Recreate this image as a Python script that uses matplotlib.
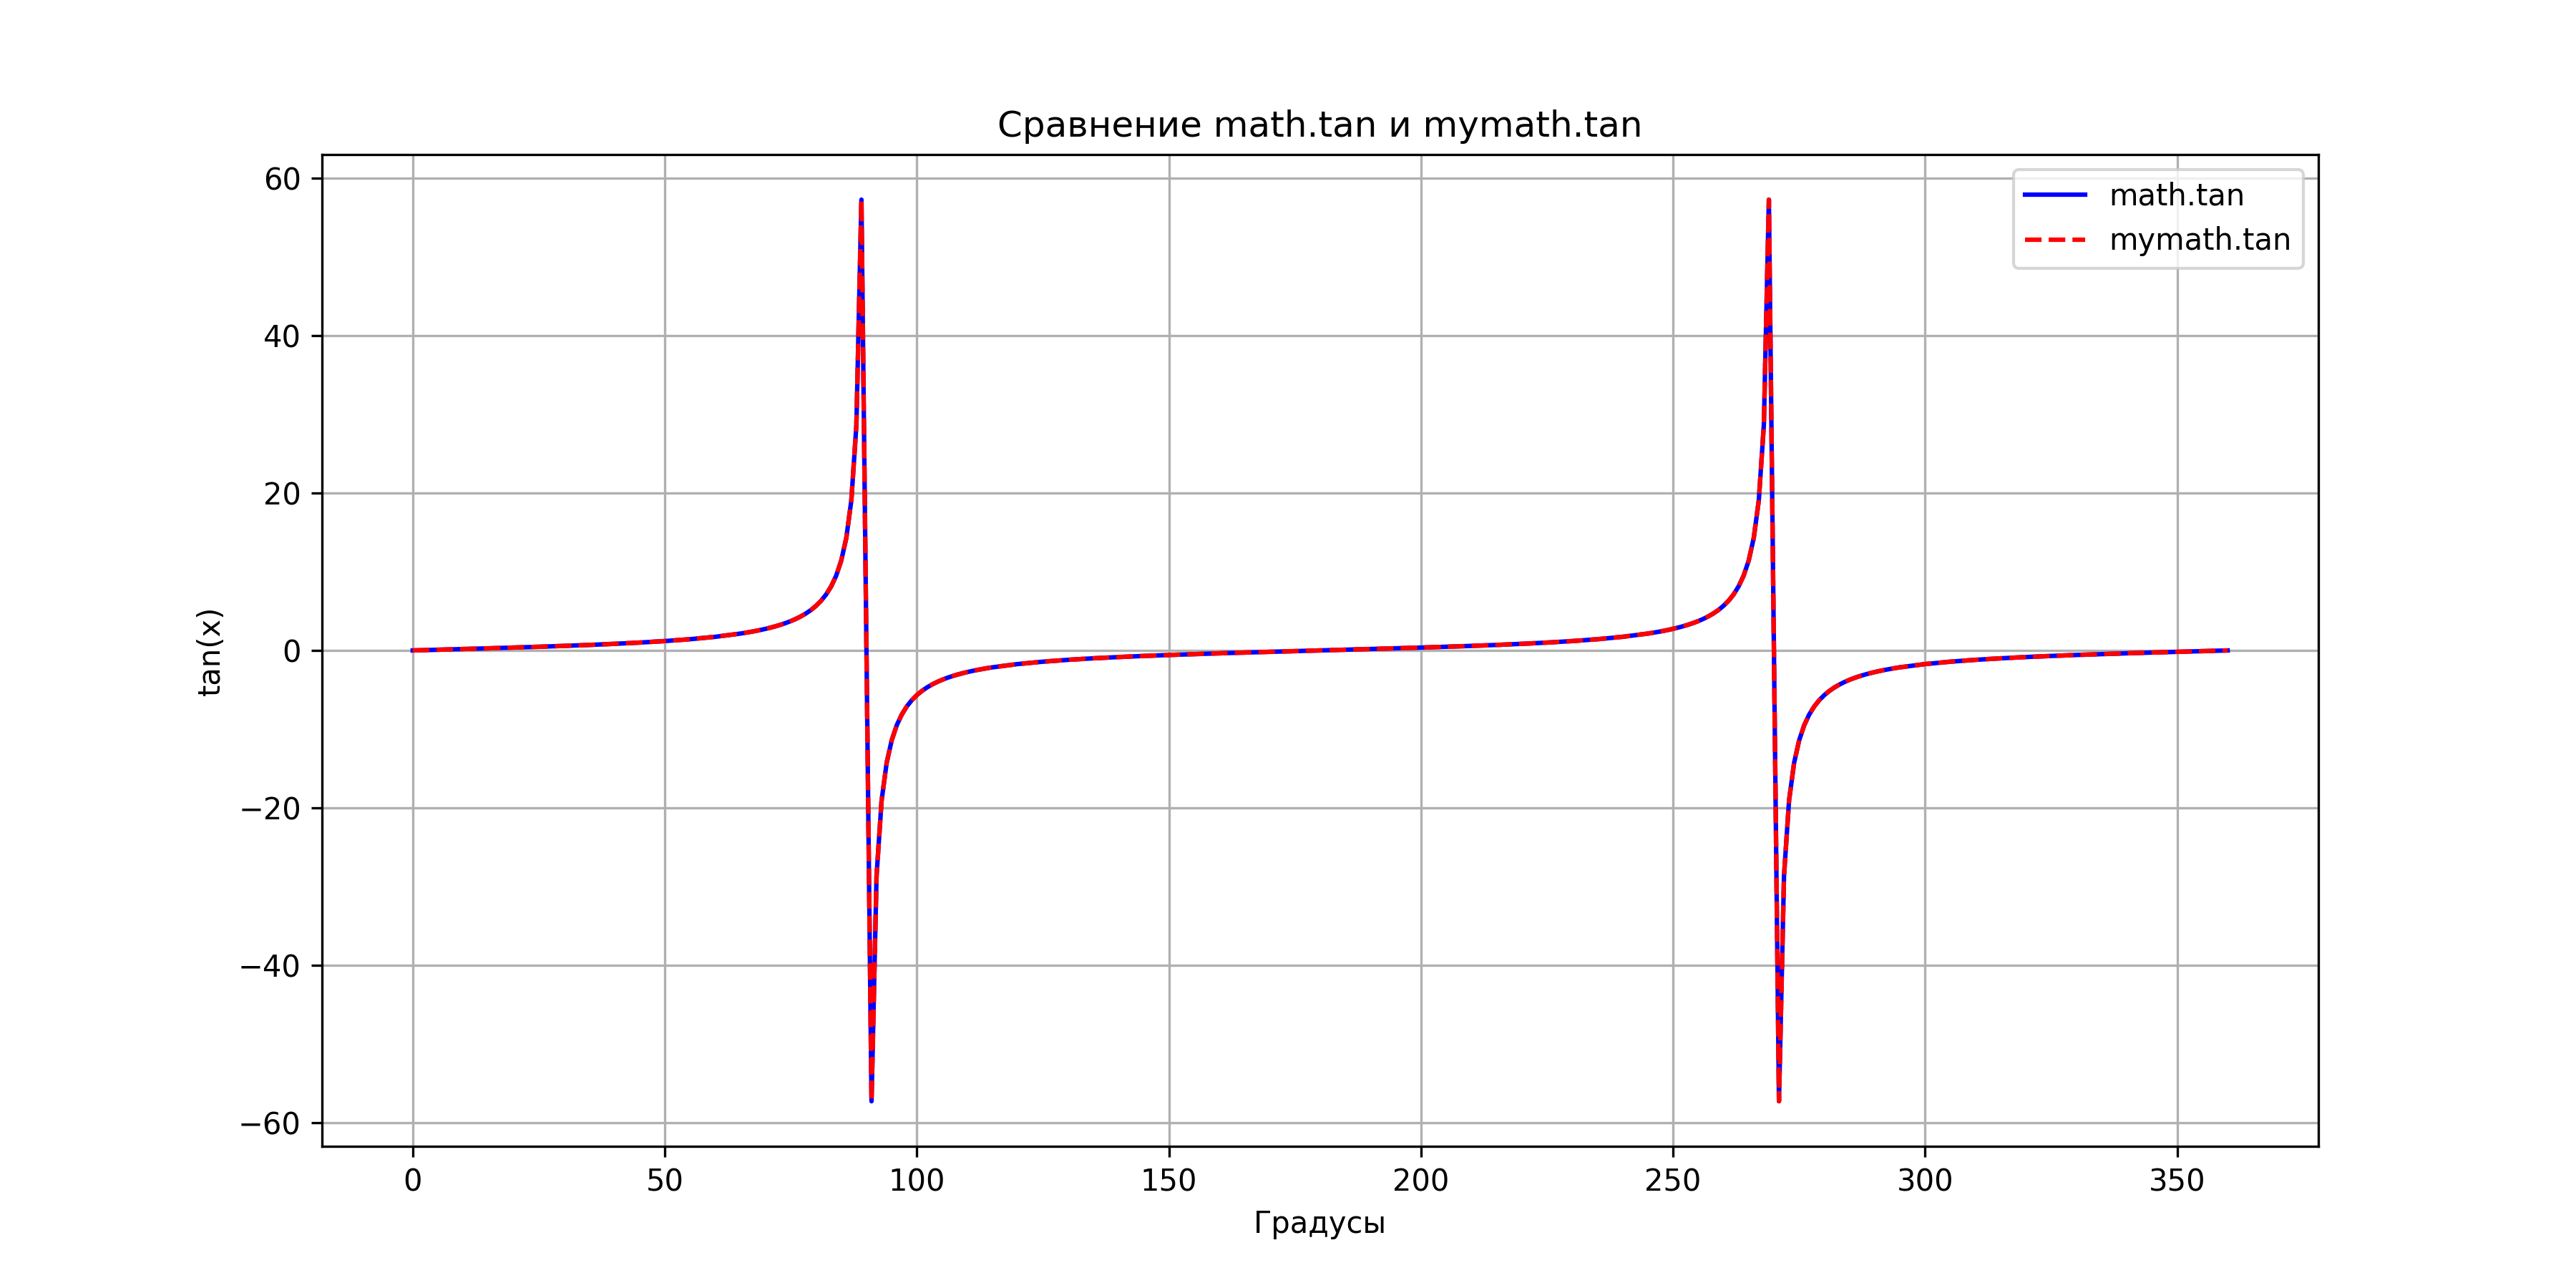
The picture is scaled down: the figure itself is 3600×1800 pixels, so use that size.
import matplotlib
matplotlib.use("Agg")
import matplotlib.pyplot as plt

# angles in degrees (no point at 90 / 270)
degrees = [
    0, 5, 10, 15, 20, 25, 30, 35, 40, 45, 50, 55, 60, 65,
    66, 67, 68, 69, 70, 71, 72, 73, 74,
    75, 76, 77, 78, 79, 80, 81, 82, 83, 84, 85, 86, 87, 88, 89,
    91, 92, 93, 94, 95, 96, 97, 98, 99, 100, 101, 102, 103, 104, 105,
    106, 107, 108, 109, 110, 111, 112, 113, 114,
    115, 120, 125, 130, 135, 140, 145, 150, 155, 160, 165, 170, 175, 180,
    185, 190, 195, 200, 205, 210, 215, 220, 225, 230, 235, 240, 245,
    246, 247, 248, 249, 250, 251, 252, 253, 254,
    255, 256, 257, 258, 259, 260, 261, 262, 263, 264, 265, 266, 267, 268, 269,
    271, 272, 273, 274, 275, 276, 277, 278, 279, 280, 281, 282, 283, 284, 285,
    286, 287, 288, 289, 290, 291, 292, 293, 294,
    295, 300, 305, 310, 315, 320, 325, 330, 335, 340, 345, 350, 355, 360,
]

tan_math = [
    0.0, 0.0875, 0.1763, 0.2679, 0.3640, 0.4663, 0.5774, 0.7002, 0.8391, 1.0, 1.1918, 1.4281, 1.7321, 2.1445,
    2.2460, 2.3559, 2.4751, 2.6051, 2.7475, 2.9042, 3.0777, 3.2709, 3.4874,
    3.7321, 4.0108, 4.3315, 4.7046, 5.1446, 5.6713, 6.3138, 7.1154, 8.1443, 9.5144, 11.4301, 14.3007, 19.0811, 28.6363, 57.2900,
    -57.2900, -28.6363, -19.0811, -14.3007, -11.4301, -9.5144, -8.1443, -7.1154, -6.3138, -5.6713, -5.1446, -4.7046, -4.3315, -4.0108, -3.7321,
    -3.4874, -3.2709, -3.0777, -2.9042, -2.7475, -2.6051, -2.4751, -2.3559, -2.2460,
    -2.1445, -1.7321, -1.4281, -1.1918, -1.0, -0.8391, -0.7002, -0.5774, -0.4663, -0.3640, -0.2679, -0.1763, -0.0875, 0.0,
    0.0875, 0.1763, 0.2679, 0.3640, 0.4663, 0.5774, 0.7002, 0.8391, 1.0, 1.1918, 1.4281, 1.7321, 2.1445,
    2.2460, 2.3559, 2.4751, 2.6051, 2.7475, 2.9042, 3.0777, 3.2709, 3.4874,
    3.7321, 4.0108, 4.3315, 4.7046, 5.1446, 5.6713, 6.3138, 7.1154, 8.1443, 9.5144, 11.4301, 14.3007, 19.0811, 28.6363, 57.2900,
    -57.2900, -28.6363, -19.0811, -14.3007, -11.4301, -9.5144, -8.1443, -7.1154, -6.3138, -5.6713, -5.1446, -4.7046, -4.3315, -4.0108, -3.7321,
    -3.4874, -3.2709, -3.0777, -2.9042, -2.7475, -2.6051, -2.4751, -2.3559, -2.2460,
    -2.1445, -1.7321, -1.4281, -1.1918, -1.0, -0.8391, -0.7002, -0.5774, -0.4663, -0.3640, -0.2679, -0.1763, -0.0875, 0.0,
]

# approximation matches math.tan to plotting precision
tan_mymath = list(tan_math)

fig = plt.figure(figsize=(12, 6))
plt.plot(degrees, tan_math, color="blue", linestyle="-", label="math.tan")
plt.plot(degrees, tan_mymath, color="red", linestyle="--", label="mymath.tan")
plt.title("Сравнение math.tan и mymath.tan")
plt.xlabel("Градусы")
plt.ylabel("tan(x)")
plt.grid(True)
plt.legend(loc="upper right")
plt.savefig("out.png", dpi=300)
